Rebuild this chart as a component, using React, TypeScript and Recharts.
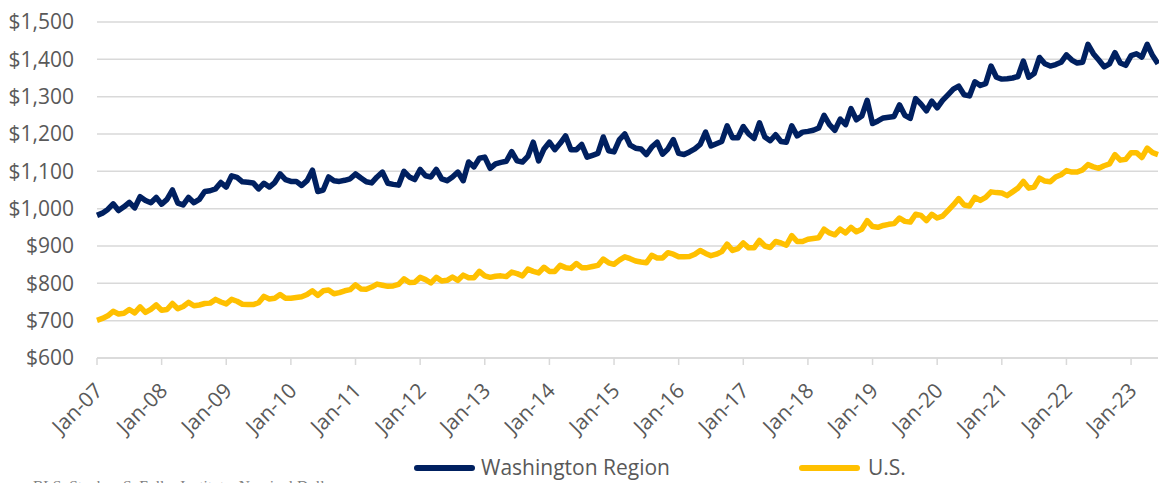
import React from 'react';
import { LineChart, Line, XAxis, YAxis, CartesianGrid, Legend } from 'recharts';

const MONTH_NAMES = ['Jan', 'Feb', 'Mar', 'Apr', 'May', 'Jun', 'Jul', 'Aug', 'Sep', 'Oct', 'Nov', 'Dec'];
const START_YEAR = 7; // 2007

const washington = [
  982, 988, 998, 1013, 995, 1005, 1017, 1002, 1032, 1022, 1016, 1030,
  1012, 1025, 1050, 1015, 1010, 1030, 1016, 1025, 1046, 1048, 1053, 1070,
  1058, 1088, 1084, 1072, 1071, 1069, 1053, 1068, 1058, 1070, 1093, 1078,
  1073, 1073, 1062, 1075, 1103, 1046, 1050, 1085, 1075, 1073, 1076, 1080,
  1093, 1082, 1072, 1069, 1085, 1098, 1068, 1065, 1063, 1100, 1085, 1078,
  1105, 1088, 1085, 1105, 1080, 1075, 1085, 1098, 1075, 1125, 1112, 1135,
  1138, 1108, 1120, 1124, 1127, 1153, 1128, 1125, 1140, 1178, 1128, 1160,
  1178, 1158, 1175, 1195, 1158, 1158, 1172, 1138, 1143, 1148, 1192, 1155,
  1152, 1185, 1200, 1170, 1162, 1160, 1145, 1165, 1178, 1146, 1160, 1185,
  1148, 1145, 1152, 1160, 1172, 1205, 1168, 1174, 1180, 1222, 1190, 1190,
  1220, 1200, 1188, 1230, 1192, 1182, 1198, 1180, 1178, 1222, 1195, 1205,
  1207, 1210, 1216, 1250, 1225, 1210, 1240, 1225, 1268, 1238, 1248, 1290,
  1228, 1235, 1243, 1245, 1247, 1278, 1250, 1242, 1295, 1280, 1262, 1288,
  1270, 1290, 1305, 1320, 1328, 1305, 1302, 1340, 1330, 1335, 1382, 1352,
  1347, 1348, 1350, 1354, 1395, 1352, 1362, 1405, 1388, 1382, 1386, 1392,
  1412, 1398, 1390, 1392, 1440, 1415, 1398, 1380, 1388, 1418, 1390, 1384,
  1410, 1415, 1406, 1440, 1410, 1388,
];

const unitedStates = [
  701, 706, 713, 725, 718, 720, 730, 721, 737, 722, 730, 742,
  728, 730, 746, 732, 738, 749, 740, 742, 746, 747, 757, 750,
  745, 757, 752, 744, 743, 743, 748, 765, 758, 760, 770, 760,
  760, 762, 764, 770, 780, 768, 780, 782, 772, 775, 780, 783,
  796, 785, 784, 790, 798, 795, 792, 793, 797, 812, 802, 803,
  816, 810, 801, 816, 806, 808, 817, 808, 822, 815, 815, 832,
  820, 816, 819, 820, 818, 830, 826, 820, 838, 832, 828, 843,
  832, 832, 848, 842, 840, 853, 842, 842, 845, 848, 865, 855,
  851, 862, 871, 866, 860, 857, 855, 875, 868, 868, 882, 878,
  871, 871, 872, 878, 888, 880, 874, 878, 885, 905, 888, 893,
  908, 895, 895, 915, 900, 896, 912, 908, 902, 928, 912, 912,
  918, 920, 922, 945, 935, 930, 945, 935, 950, 938, 945, 968,
  952, 950, 955, 958, 960, 975, 966, 964, 985, 982, 968, 985,
  975, 980, 995, 1010, 1027, 1010, 1007, 1030, 1022, 1030, 1045, 1043,
  1042, 1035, 1045, 1055, 1073, 1055, 1058, 1082, 1074, 1072, 1085, 1091,
  1102, 1098, 1098, 1104, 1118, 1112, 1108, 1115, 1120, 1145, 1130, 1132,
  1150, 1150, 1137, 1162, 1150, 1145,
];

const yTicks = [600, 700, 800, 900, 1000, 1100, 1200, 1300, 1400, 1500];
const seriesNames = ['Washington Region', 'U.S.'];
const seriesColors = ['#002060', '#FFC000'];
const sourceNote = 'BLS, Stephen S. Fuller Institute, Nominal Dollars';

const months = washington.map(
  (_, i) => `${MONTH_NAMES[i % 12]}-${String(START_YEAR + Math.floor(i / 12)).padStart(2, '0')}`
);
const data = months.map((m, i) => ({ month: m, wr: washington[i], us: unitedStates[i] }));

const FONT = '"Open Sans", "Noto Sans", sans-serif';
const TEXT = '#595959';
const GRID = '#d9d9d9';

const fmtMoney = (v: number) => '$' + v.toLocaleString('en-US');

const XTick = (props: any) => {
  const { x, y, payload } = props;
  const ax = x + 7;
  const ay = y + 25;
  return (
    <text
      x={ax}
      y={ay}
      transform={`rotate(-45 ${ax} ${ay})`}
      textAnchor="end"
      fill={TEXT}
      fontSize={21}
      fontFamily={FONT}
    >
      {payload.value}
    </text>
  );
};

const LegendContent = () => (
  <svg width={1151} height={30} style={{ display: 'block', overflow: 'visible' }}>
    <line x1={409} x2={464} y1={15} y2={15} stroke={seriesColors[0]} strokeWidth={6} strokeLinecap="round" />
    <text x={473} y={15} dy="0.35em" fill={TEXT} fontSize={21} fontFamily={FONT}>
      {seriesNames[0]}
    </text>
    <line x1={794} x2={849} y1={15} y2={15} stroke={seriesColors[1]} strokeWidth={6} strokeLinecap="round" />
    <text x={860} y={15} dy="0.35em" fill={TEXT} fontSize={21} fontFamily={FONT}>
      {seriesNames[1]}
    </text>
  </svg>
);

export default function App() {
  return (
    <div
      style={{
        position: 'fixed',
        left: 0,
        top: 0,
        width: 1159,
        height: 483,
        overflow: 'hidden',
        background: '#ffffff',
      }}
    >
      <div style={{ position: 'absolute', left: 8, top: 8, width: 1151, height: 475 }}>
        <LineChart width={1151} height={475} data={data} margin={{ top: 14, right: 1, left: 0, bottom: 15 }}>
          <CartesianGrid vertical={false} stroke={GRID} strokeWidth={1.5} />
          <XAxis
            dataKey="month"
            interval={11}
            height={80}
            tickSize={7}
            tickMargin={2}
            axisLine={{ stroke: GRID, strokeWidth: 1.5 }}
            tickLine={{ stroke: GRID, strokeWidth: 1.5 }}
            tick={<XTick />}
          />
          <YAxis
            width={89}
            domain={[600, 1500]}
            ticks={yTicks}
            interval={0}
            tickFormatter={fmtMoney}
            axisLine={false}
            tickLine={false}
            tickSize={0}
            tickMargin={23}
            tick={{ fill: TEXT, fontSize: 21, fontFamily: FONT }}
          />
          <Line
            type="linear"
            dataKey="wr"
            name={seriesNames[0]}
            stroke={seriesColors[0]}
            strokeWidth={5.5}
            strokeLinejoin="round"
            dot={false}
            isAnimationActive={false}
          />
          <Line
            type="linear"
            dataKey="us"
            name={seriesNames[1]}
            stroke={seriesColors[1]}
            strokeWidth={5.5}
            strokeLinejoin="round"
            dot={false}
            isAnimationActive={false}
          />
          <Legend
            verticalAlign="bottom"
            height={30}
            wrapperStyle={{ top: 445, left: 0, width: 1151, height: 30, overflow: 'visible' }}
            content={() => <LegendContent />}
          />
        </LineChart>
        <div
          style={{
            position: 'absolute',
            left: 25,
            top: 469,
            fontSize: 15.5,
            fontFamily: '"Liberation Serif", "DejaVu Serif", serif',
            color: '#7f7f7f',
            whiteSpace: 'nowrap',
            lineHeight: '17px',
          }}
        >
          {sourceNote}
        </div>
      </div>
    </div>
  );
}
